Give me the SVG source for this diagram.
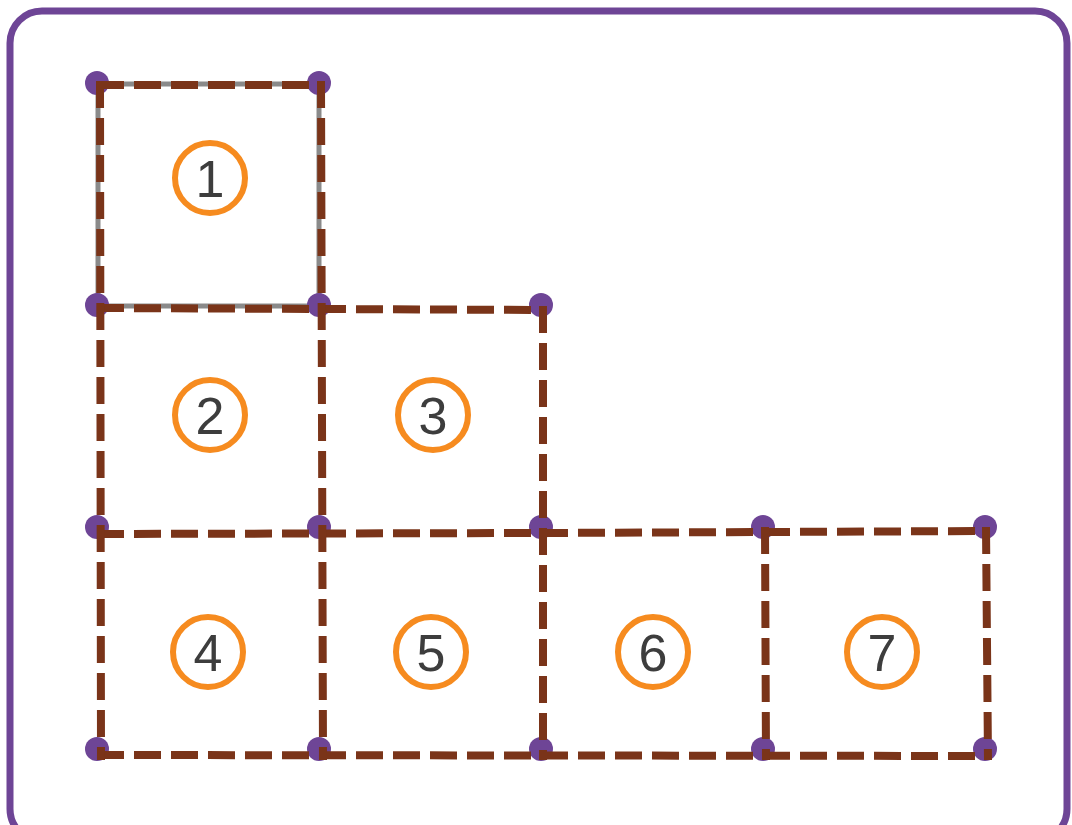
<svg xmlns="http://www.w3.org/2000/svg" width="1072" height="825" viewBox="0 0 1072 825">
<style>
.frame{fill:#fff;stroke:#6e4596;stroke-width:7}
.edge{stroke:#7a3419;stroke-width:8;stroke-dasharray:27 10;fill:none}
.dot{fill:#6e4596}
.ring{fill:#fff;stroke:#f68b1f;stroke-width:6}
.num{font-family:"Liberation Sans",Arial,sans-serif;font-size:52px;fill:#3d3d3d;text-anchor:middle}
</style>
<rect class="frame" x="10" y="11" width="1057" height="830" rx="32"/>
<rect x="98" y="84" width="221" height="222" fill="none" stroke="#8a8a8a" stroke-width="5"/>
<g id="dots">
<circle class="dot" cx="97" cy="83" r="12"/>
<circle class="dot" cx="319" cy="83" r="12"/>
<circle class="dot" cx="97" cy="305" r="12"/>
<circle class="dot" cx="319" cy="305" r="12"/>
<circle class="dot" cx="541" cy="305" r="12"/>
<circle class="dot" cx="97" cy="527" r="12"/>
<circle class="dot" cx="319" cy="527" r="12"/>
<circle class="dot" cx="541" cy="527" r="12"/>
<circle class="dot" cx="763" cy="527" r="12"/>
<circle class="dot" cx="985" cy="527" r="12"/>
<circle class="dot" cx="97" cy="749" r="12"/>
<circle class="dot" cx="319" cy="749" r="12"/>
<circle class="dot" cx="541" cy="749" r="12"/>
<circle class="dot" cx="763" cy="749" r="12"/>
<circle class="dot" cx="985" cy="749" r="12"/>
</g>
<g id="connectors">
<line class="edge" x1="97" y1="85" x2="321" y2="85"/>
<line class="edge" x1="97" y1="308" x2="543" y2="310"/>
<line class="edge" x1="97" y1="534" x2="541" y2="533"/>
<line class="edge" x1="541" y1="533" x2="987" y2="531"/>
<line class="edge" x1="97" y1="755" x2="987" y2="756"/>
<line class="edge" x1="100" y1="81" x2="101" y2="760"/>
<line class="edge" x1="321" y1="81" x2="323" y2="760"/>
<line class="edge" x1="543" y1="306" x2="543" y2="760"/>
<line class="edge" x1="765" y1="527" x2="766" y2="760"/>
<line class="edge" x1="986" y1="527" x2="988" y2="760"/>
</g>
<g id="square1"><circle class="ring" cx="210" cy="178" r="35"/><text class="num" x="210" y="197">1</text></g>
<g id="square2"><circle class="ring" cx="210" cy="415" r="35"/><text class="num" x="210" y="434">2</text></g>
<g id="square3"><circle class="ring" cx="433" cy="415" r="35"/><text class="num" x="433" y="434">3</text></g>
<g id="square4"><circle class="ring" cx="208" cy="652" r="35"/><text class="num" x="208" y="671">4</text></g>
<g id="square5"><circle class="ring" cx="431" cy="652" r="35"/><text class="num" x="431" y="671">5</text></g>
<g id="square6"><circle class="ring" cx="653" cy="652" r="35"/><text class="num" x="653" y="671">6</text></g>
<g id="square7"><circle class="ring" cx="882" cy="652" r="35"/><text class="num" x="882" y="671">7</text></g>
</svg>
